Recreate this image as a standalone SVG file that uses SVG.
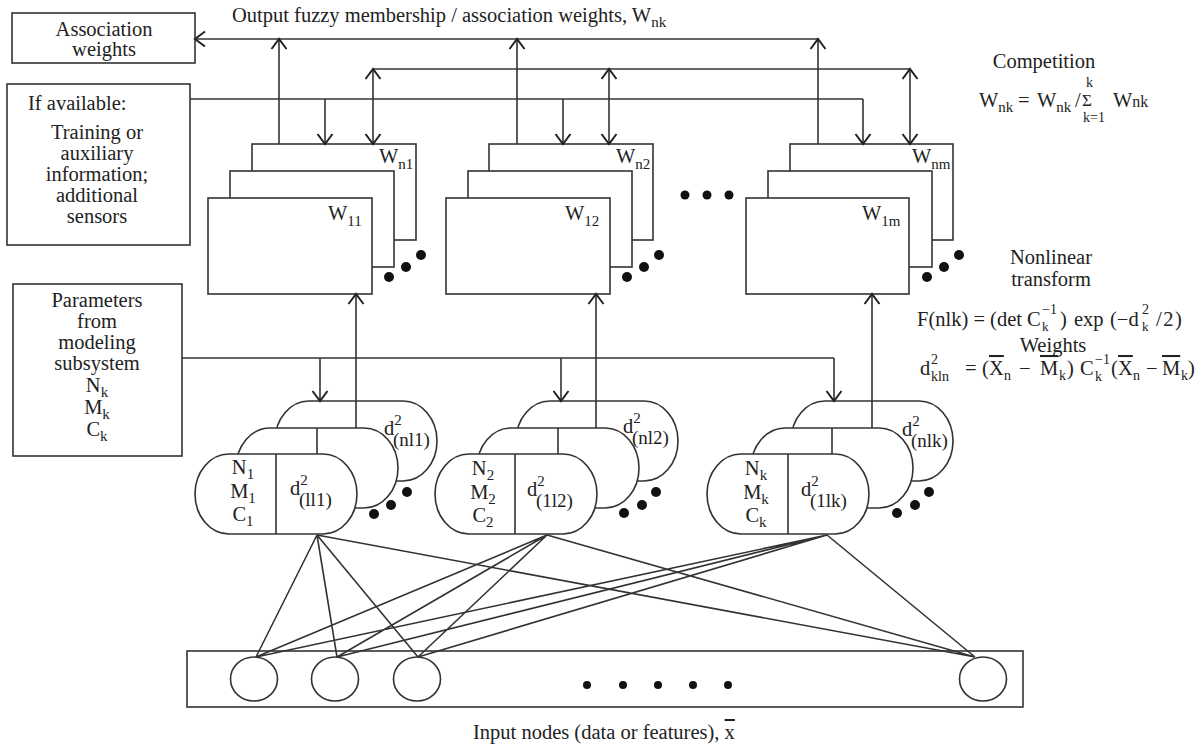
<svg xmlns="http://www.w3.org/2000/svg" width="1198" height="746" viewBox="0 0 1198 746" font-family="'Liberation Serif', 'Times New Roman', Tinos, 'DejaVu Serif', serif">
<style>
.ln{stroke:#333;stroke-width:1.6;fill:none}
.bx{stroke:#333;stroke-width:1.6;fill:#fff}
.dot{fill:#111}
.t{font-size:20.5px;fill:#222}
.c{text-anchor:middle}
.s{font-size:15px}
.m{font-size:14px}
.ov{text-decoration:overline}
</style>
<defs>
<marker id="ah" viewBox="-11 -9 13 18" refX="0" refY="0" markerWidth="13" markerHeight="18" markerUnits="userSpaceOnUse" orient="auto-start-reverse">
<path d="M-10,-7.5 L0,0 L-10,7.5" fill="none" stroke="#222" stroke-width="2"/>
</marker>
</defs>

<rect width="1198" height="746" fill="#fff"/>

<g class="t">
<g id="assoc">
<rect class="bx" x="12" y="13" width="183" height="50"/>
<text class="c" x="104" y="36">Association</text>
<text class="c" x="104" y="56">weights</text>
</g>

<g id="ifavail">
<rect class="bx" x="7" y="84" width="183" height="161"/>
<text x="28" y="110">If available:</text>
<text class="c" x="97" y="139">Training or</text>
<text class="c" x="97" y="160">auxiliary</text>
<text class="c" x="97" y="181">information;</text>
<text class="c" x="97" y="202">additional</text>
<text class="c" x="97" y="223">sensors</text>
</g>

<g id="params">
<rect class="bx" x="13" y="284" width="169" height="172"/>
<text class="c" x="97" y="307">Parameters</text>
<text class="c" x="97" y="328">from</text>
<text class="c" x="97" y="349">modeling</text>
<text class="c" x="97" y="370">subsystem</text>
<text class="c" x="97" y="392">N<tspan class="s" dy="5">k</tspan></text>
<text class="c" x="97" y="414">M<tspan class="s" dy="5">k</tspan></text>
<text class="c" x="97" y="436">C<tspan class="s" dy="5">k</tspan></text>
</g>

<g id="wstack1">
<rect class="bx" x="252" y="144" width="164" height="96"/>
<text x="379" y="163">W<tspan class="s" dy="6">n1</tspan></text>
<rect class="bx" x="230" y="171" width="164" height="96"/>
<rect class="bx" x="208" y="198" width="164" height="96"/>
<text x="328" y="220">W<tspan class="s" dy="6">11</tspan></text>
<circle class="dot" cx="389" cy="277" r="5"/><circle class="dot" cx="406" cy="267" r="5"/><circle class="dot" cx="421" cy="255" r="5"/>
</g>

<g id="wstack2">
<rect class="bx" x="489" y="144" width="164" height="96"/>
<text x="616" y="163">W<tspan class="s" dy="6">n2</tspan></text>
<rect class="bx" x="468" y="171" width="164" height="96"/>
<rect class="bx" x="446" y="198" width="164" height="96"/>
<text x="565" y="220">W<tspan class="s" dy="6">12</tspan></text>
<circle class="dot" cx="627" cy="277" r="5"/><circle class="dot" cx="644" cy="267" r="5"/><circle class="dot" cx="659" cy="255" r="5"/>
</g>

<g id="wdots">
<circle class="dot" cx="685" cy="195" r="4.5"/><circle class="dot" cx="707" cy="195" r="4.5"/><circle class="dot" cx="729" cy="195" r="4.5"/>
</g>

<g id="wstack3">
<rect class="bx" x="790" y="144" width="163" height="96"/>
<text x="912" y="163">W<tspan class="s" dy="6">nm</tspan></text>
<rect class="bx" x="768" y="171" width="164" height="96"/>
<rect class="bx" x="746" y="198" width="163" height="96"/>
<text x="862" y="220">W<tspan class="s" dy="6">1m</tspan></text>
<circle class="dot" cx="927" cy="277" r="5"/><circle class="dot" cx="944" cy="267" r="5"/><circle class="dot" cx="959" cy="255" r="5"/>
</g>

<g id="cap1">
<rect class="bx" x="275" y="401" width="162" height="80" rx="34" ry="40"/>
<line class="ln" x1="356" y1="401" x2="356" y2="481"/>
<text x="384" y="435">d<tspan class="s" dy="-10">2</tspan><tspan x="393" dy="21" font-size="19">(nl1)</tspan></text>
<rect class="bx" x="236" y="428" width="162" height="80" rx="34" ry="40"/>
<line class="ln" x1="317" y1="428" x2="317" y2="508"/>
<rect class="bx" x="195" y="454" width="162" height="80" rx="34" ry="40"/>
<line class="ln" x1="276" y1="454" x2="276" y2="534"/>
<text class="c" x="243" y="474">N<tspan class="s" dy="5">1</tspan></text>
<text class="c" x="243" y="498">M<tspan class="s" dy="5">1</tspan></text>
<text class="c" x="243" y="521">C<tspan class="s" dy="5">1</tspan></text>
<text x="290" y="495">d<tspan class="s" dy="-10">2</tspan><tspan x="299" dy="21" font-size="19">(ll1)</tspan></text>
<circle class="dot" cx="374" cy="514" r="5"/><circle class="dot" cx="391" cy="505" r="5"/><circle class="dot" cx="407" cy="492" r="5"/>
</g>

<g id="cap2">
<rect class="bx" x="516" y="401" width="162" height="80" rx="34" ry="40"/>
<line class="ln" x1="596" y1="401" x2="596" y2="481"/>
<text x="623" y="433">d<tspan class="s" dy="-10">2</tspan><tspan x="632" dy="21" font-size="19">(nl2)</tspan></text>
<rect class="bx" x="477" y="428" width="162" height="80" rx="34" ry="40"/>
<line class="ln" x1="558" y1="428" x2="558" y2="508"/>
<rect class="bx" x="435" y="454" width="162" height="80" rx="34" ry="40"/>
<line class="ln" x1="515" y1="454" x2="515" y2="534"/>
<text class="c" x="483" y="475">N<tspan class="s" dy="5">2</tspan></text>
<text class="c" x="483" y="499">M<tspan class="s" dy="5">2</tspan></text>
<text class="c" x="483" y="522">C<tspan class="s" dy="5">2</tspan></text>
<text x="527" y="496">d<tspan class="s" dy="-10">2</tspan><tspan x="536" dy="21" font-size="19">(1l2)</tspan></text>
<circle class="dot" cx="624" cy="513" r="5"/><circle class="dot" cx="642" cy="505" r="5"/><circle class="dot" cx="656" cy="492" r="5"/>
</g>

<g id="cap3">
<rect class="bx" x="791" y="401" width="162" height="80" rx="34" ry="40"/>
<line class="ln" x1="872" y1="401" x2="872" y2="481"/>
<text x="902" y="436">d<tspan class="s" dy="-10">2</tspan><tspan x="911" dy="21" font-size="19">(nlk)</tspan></text>
<rect class="bx" x="751" y="428" width="162" height="80" rx="34" ry="40"/>
<line class="ln" x1="832" y1="428" x2="832" y2="508"/>
<rect class="bx" x="707" y="454" width="162" height="80" rx="34" ry="40"/>
<line class="ln" x1="788" y1="454" x2="788" y2="534"/>
<text class="c" x="756" y="475">N<tspan class="s" dy="5">k</tspan></text>
<text class="c" x="756" y="499">M<tspan class="s" dy="5">k</tspan></text>
<text class="c" x="756" y="522">C<tspan class="s" dy="5">k</tspan></text>
<text x="801" y="496">d<tspan class="s" dy="-10">2</tspan><tspan x="810" dy="21" font-size="19">(1lk)</tspan></text>
<circle class="dot" cx="897" cy="513" r="5"/><circle class="dot" cx="915" cy="505" r="5"/><circle class="dot" cx="929" cy="492" r="5"/>
</g>

<g id="inputs">
<rect class="bx" x="187" y="651" width="836" height="56"/>
<ellipse class="bx" cx="254" cy="679" rx="23.5" ry="22"/>
<ellipse class="bx" cx="335" cy="679" rx="23.5" ry="22"/>
<ellipse class="bx" cx="417" cy="679" rx="23.5" ry="22"/>
<ellipse class="bx" cx="983" cy="679" rx="23.5" ry="22"/>
<circle class="dot" cx="587" cy="685" r="4"/><circle class="dot" cx="623" cy="685" r="4"/><circle class="dot" cx="658" cy="685" r="4"/><circle class="dot" cx="693" cy="685" r="4"/><circle class="dot" cx="728" cy="685" r="4"/>
<text x="473" y="739">Input nodes (data or features), <tspan class="ov">x</tspan></text>
</g>

<g id="labels">
<text x="232" y="22">Output fuzzy membership / association weights, W<tspan class="s" dy="5">nk</tspan></text>
<text class="c" x="1044" y="68">Competition</text>
<text x="979" y="107">W<tspan class="s" dy="5">nk</tspan></text>
<text x="1018" y="107">=</text>
<text x="1037" y="107">W<tspan class="s" dy="5">nk</tspan></text>
<text x="1075" y="107">/</text>
<text x="1082" y="106" font-size="17">&#931;</text>
<text x="1086" y="87" class="m">k</text>
<text x="1083" y="122" class="m">k=1</text>
<text x="1113" y="107">W<tspan font-size="16">nk</tspan></text>
<text class="c" x="1051" y="264">Nonlinear</text>
<text class="c" x="1051" y="286">transform</text>
<text x="917" y="326">F(nlk) = (det C</text>
<text x="1042" y="314" class="m">&#8722;1</text>
<text x="1042" y="331" font-size="13">k</text>
<text x="1060" y="326">)</text>
<text x="1074" y="326">exp</text>
<text x="1110" y="326">(&#8722;d</text>
<text x="1142" y="314" class="m">2</text>
<text x="1142" y="331" font-size="13">k</text>
<text x="1156" y="326" letter-spacing="1.5">/2)</text>
<text class="c" x="1053" y="352">Weights</text>
<text x="920" y="375">d</text>
<text x="931" y="364" class="m">2</text>
<text x="931" y="381" class="m">kln</text>
<text x="965" y="375">=</text>
<text x="982" y="375">(</text>
<text x="989" y="375" class="ov">X</text>
<text x="1004" y="380" class="m">n</text>
<text x="1019" y="375">&#8722;</text>
<text x="1040" y="375" class="ov">M</text>
<text x="1059" y="380" class="m">k</text>
<text x="1067" y="375">)</text>
<text x="1080" y="375">C</text>
<text x="1095" y="364" class="m">&#8722;1</text>
<text x="1095" y="381" class="m">k</text>
<text x="1111" y="375">(</text>
<text x="1118" y="375" class="ov">X</text>
<text x="1133" y="380" class="m">n</text>
<text x="1146" y="375">&#8722;</text>
<text x="1162" y="375" class="ov">M</text>
<text x="1181" y="380" class="m">k</text>
<text x="1188" y="375">)</text>
</g>
</g>

<g id="connectors">
<line class="ln" x1="818" y1="39" x2="195" y2="39" marker-end="url(#ah)"/>
<line class="ln" x1="279" y1="144" x2="279" y2="39" marker-end="url(#ah)"/>
<line class="ln" x1="517" y1="144" x2="517" y2="39" marker-end="url(#ah)"/>
<line class="ln" x1="818" y1="144" x2="818" y2="39" marker-end="url(#ah)"/>
<line class="ln" x1="373" y1="69" x2="910" y2="69"/>
<line class="ln" x1="373" y1="144" x2="373" y2="69" marker-start="url(#ah)" marker-end="url(#ah)"/>
<line class="ln" x1="609" y1="144" x2="609" y2="69" marker-start="url(#ah)" marker-end="url(#ah)"/>
<line class="ln" x1="910" y1="144" x2="910" y2="69" marker-start="url(#ah)" marker-end="url(#ah)"/>
<line class="ln" x1="190" y1="99" x2="863" y2="99"/>
<line class="ln" x1="325" y1="99" x2="325" y2="144" marker-end="url(#ah)"/>
<line class="ln" x1="563" y1="99" x2="563" y2="144" marker-end="url(#ah)"/>
<line class="ln" x1="863" y1="99" x2="863" y2="144" marker-end="url(#ah)"/>
<line class="ln" x1="182" y1="358" x2="834" y2="358"/>
<line class="ln" x1="320" y1="358" x2="320" y2="401" marker-end="url(#ah)"/>
<line class="ln" x1="561" y1="358" x2="561" y2="401" marker-end="url(#ah)"/>
<line class="ln" x1="834" y1="358" x2="834" y2="401" marker-end="url(#ah)"/>
<line class="ln" x1="356" y1="401" x2="356" y2="294" marker-end="url(#ah)"/>
<line class="ln" x1="596" y1="401" x2="596" y2="294" marker-end="url(#ah)"/>
<line class="ln" x1="872" y1="401" x2="872" y2="294" marker-end="url(#ah)"/>
<path class="ln" d="M317,535 L256,657 M317,535 L337,657 M317,535 L418,657 M317,535 L975,657 M547,535 L256,657 M547,535 L337,657 M547,535 L418,657 M547,535 L975,657 M827,535 L256,657 M827,535 L337,657 M827,535 L418,657 M827,535 L975,657"/>
</g>
</svg>
